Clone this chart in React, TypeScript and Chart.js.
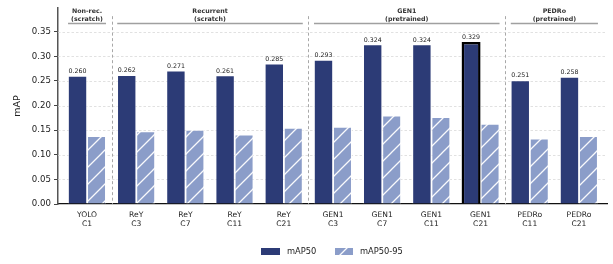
import React, { useEffect, useRef } from "react";
import { Chart, registerables } from "chart.js";

Chart.register(...registerables);

const categories: string[][] = [
  ["YOLO", "C1"],
  ["ReY", "C3"],
  ["ReY", "C7"],
  ["ReY", "C11"],
  ["ReY", "C21"],
  ["GEN1", "C3"],
  ["GEN1", "C7"],
  ["GEN1", "C11"],
  ["GEN1", "C21"],
  ["PEDRo", "C11"],
  ["PEDRo", "C21"],
];
const map50: number[] = [0.26, 0.262, 0.271, 0.261, 0.285, 0.293, 0.324, 0.324, 0.329, 0.251, 0.258];
const map5095: number[] = [0.138, 0.148, 0.151, 0.141, 0.155, 0.157, 0.18, 0.177, 0.163, 0.133, 0.138];
const valueLabels: string[] = ["0.260", "0.262", "0.271", "0.261", "0.285", "0.293", "0.324", "0.324", "0.329", "0.251", "0.258"];
const yTicks: number[] = [0, 0.05, 0.1, 0.15, 0.2, 0.25, 0.3, 0.35];
const groups: { title: string[]; from: number; to: number }[] = [
  { title: ["Non-rec.", "(scratch)"], from: 0, to: 0 },
  { title: ["Recurrent", "(scratch)"], from: 1, to: 4 },
  { title: ["GEN1", "(pretrained)"], from: 5, to: 8 },
  { title: ["PEDRo", "(pretrained)"], from: 9, to: 10 },
];
const highlightIndex = 8;
const seriesNames = ["mAP50", "mAP50-95"];

const DARK = "#2c3b76";
const LIGHT = "#8b9dc9";
const FONT = "'DejaVu Sans', sans-serif";

function makeHatch(): CanvasPattern | string {
  const s = 17;
  const c = document.createElement("canvas");
  c.width = s;
  c.height = s;
  const g = c.getContext("2d");
  if (!g) return LIGHT;
  g.fillStyle = LIGHT;
  g.fillRect(0, 0, s, s);
  g.strokeStyle = "rgba(255,255,255,0.95)";
  g.lineWidth = 1.3;
  g.beginPath();
  g.moveTo(-2, s + 2);
  g.lineTo(s + 2, -2);
  g.moveTo(-2, 2);
  g.lineTo(2, -2);
  g.moveTo(s - 2, s + 2);
  g.lineTo(s + 2, s - 2);
  g.stroke();
  const p = g.createPattern(c, "repeat");
  return p || LIGHT;
}

export default function App() {
  const ref = useRef<HTMLCanvasElement | null>(null);
  useEffect(() => {
    document.body.style.margin = "0";
    const canvas = ref.current;
    if (!canvas) return;
    const hatch = makeHatch();
    const xIdx = categories.map((_, i) => i);

    const overlay = {
      id: "overlay",
      beforeDatasetsDraw(chart: any) {
        const { ctx, chartArea } = chart;
        const y = chart.scales.y;
        const x = chart.scales.x;
        ctx.save();
        ctx.strokeStyle = "#d9d9d9";
        ctx.lineWidth = 0.8;
        ctx.setLineDash([2.5, 2]);
        yTicks.forEach((t) => {
          if (t === 0) return;
          const py = Math.round(y.getPixelForValue(t)) + 0.5;
          ctx.beginPath();
          ctx.moveTo(chartArea.left, py);
          ctx.lineTo(chartArea.right, py);
          ctx.stroke();
        });
        ctx.strokeStyle = "#a8a8a8";
        ctx.lineWidth = 1;
        ctx.setLineDash([3, 2.5]);
        for (let gi = 0; gi < groups.length - 1; gi++) {
          const a = groups[gi].to;
          const px = Math.round(x.getPixelForValue(a + 0.5)) + 0.5;
          ctx.beginPath();
          ctx.moveTo(px, chartArea.top + 8);
          ctx.lineTo(px, chartArea.bottom);
          ctx.stroke();
        }
        ctx.restore();
      },
      afterDraw(chart: any) {
        const { ctx, chartArea } = chart;
        const m0 = chart.getDatasetMeta(0);
        const m1 = chart.getDatasetMeta(1);
        ctx.save();
        ctx.fillStyle = "#222";
        ctx.font = `6.3px ${FONT}`;
        ctx.textAlign = "center";
        ctx.textBaseline = "alphabetic";
        m0.data.forEach((bar: any, i: number) => {
          ctx.fillText(valueLabels[i], bar.x, bar.y - 3);
        });
        groups.forEach((g) => {
          const b0: any = m0.data[g.from];
          const b1: any = m1.data[g.to];
          const left = b0.x - b0.width / 2;
          const right = b1.x + b1.width / 2;
          ctx.strokeStyle = "#a0a0a0";
          ctx.lineWidth = 1.5;
          ctx.beginPath();
          ctx.moveTo(left, 23.5);
          ctx.lineTo(right, 23.5);
          ctx.stroke();
          ctx.fillStyle = "#333";
          ctx.font = `bold 6.3px ${FONT}`;
          ctx.textAlign = "center";
          ctx.textBaseline = "middle";
          const cx = (left + right) / 2;
          ctx.fillText(g.title[0], cx, 11.5);
          ctx.fillText(g.title[1], cx, 19);
        });
        ctx.save();
        ctx.translate(18, (chartArea.top + chartArea.bottom) / 2);
        ctx.rotate(-Math.PI / 2);
        ctx.fillStyle = "#222";
        ctx.font = `9.5px ${FONT}`;
        ctx.textAlign = "center";
        ctx.textBaseline = "middle";
        ctx.fillText("mAP", 0, 0);
        ctx.restore();
        ctx.font = `8.3px ${FONT}`;
        ctx.textAlign = "left";
        ctx.textBaseline = "middle";
        ctx.fillStyle = DARK;
        ctx.fillRect(261, 248, 19, 7);
        ctx.fillStyle = "#222";
        ctx.fillText(seriesNames[0], 287, 251.5);
        ctx.fillStyle = hatch as any;
        ctx.fillRect(335, 248, 18, 7);
        ctx.fillStyle = "#222";
        ctx.fillText(seriesNames[1], 360, 251.5);
        ctx.restore();
      },
    };

    const chart = new Chart(canvas, {
      type: "bar",
      data: {
        datasets: [
          {
            label: seriesNames[0],
            data: map50.map((v, i) => ({ x: xIdx[i], y: v })),
            backgroundColor: DARK,
            borderColor: map50.map((_, i) => (i === highlightIndex ? "#000" : "rgba(255,255,255,0.6)")),
            borderWidth: map50.map((_, i) => (i === highlightIndex ? 2.5 : 0.8)) as any,
            categoryPercentage: 0.772,
            barPercentage: 1.0,
          },
          {
            label: seriesNames[1],
            data: map5095.map((v, i) => ({ x: xIdx[i], y: v })),
            backgroundColor: hatch as any,
            borderColor: "rgba(255,255,255,0.85)",
            borderWidth: 1,
            categoryPercentage: 0.772,
            barPercentage: 1.0,
          },
        ],
      },
      options: {
        responsive: false,
        animation: false,
        devicePixelRatio: 1,
        layout: { padding: { top: 5, right: 6, left: 0, bottom: 0 } },
        plugins: { legend: { display: false }, tooltip: { enabled: false } },
        scales: {
          x: {
            type: "linear",
            min: -0.59,
            max: 10.57,
            offset: false,
            grid: { display: false, drawTicks: false },
            border: { display: true, color: "#111", width: 1.3 },
            ticks: {
              color: "#222",
              font: { family: FONT, size: 7.6, lineHeight: 1.25 },
              padding: 6,
              maxRotation: 0,
              autoSkip: false,
              callback: (v: any) => categories[Math.round(Number(v))] || "",
            },
            afterBuildTicks: (s: any) => {
              s.ticks = xIdx.map((v) => ({ value: v }));
            },
            afterFit: (s: any) => {
              s.height = 60;
            },
          },
          y: {
            min: 0,
            max: 0.398,
            ticks: {
              stepSize: 0.05,
              color: "#222",
              font: { family: FONT, size: 8.6 },
              padding: 3,
              callback: (v: any) => Number(v).toFixed(2),
            },
            afterBuildTicks: (s: any) => {
              s.ticks = yTicks.map((v) => ({ value: v }));
            },
            grid: { drawOnChartArea: false, tickLength: 4, tickColor: "#444", tickWidth: 1 },
            border: { display: true, color: "#555", width: 1.5 },
            afterFit: (s: any) => {
              s.width = 58;
            },
          },
        },
      } as any,
      plugins: [overlay],
    });
    return () => chart.destroy();
  }, []);
  return <canvas ref={ref} width={613} height={264} style={{ display: "block" }} />;
}
